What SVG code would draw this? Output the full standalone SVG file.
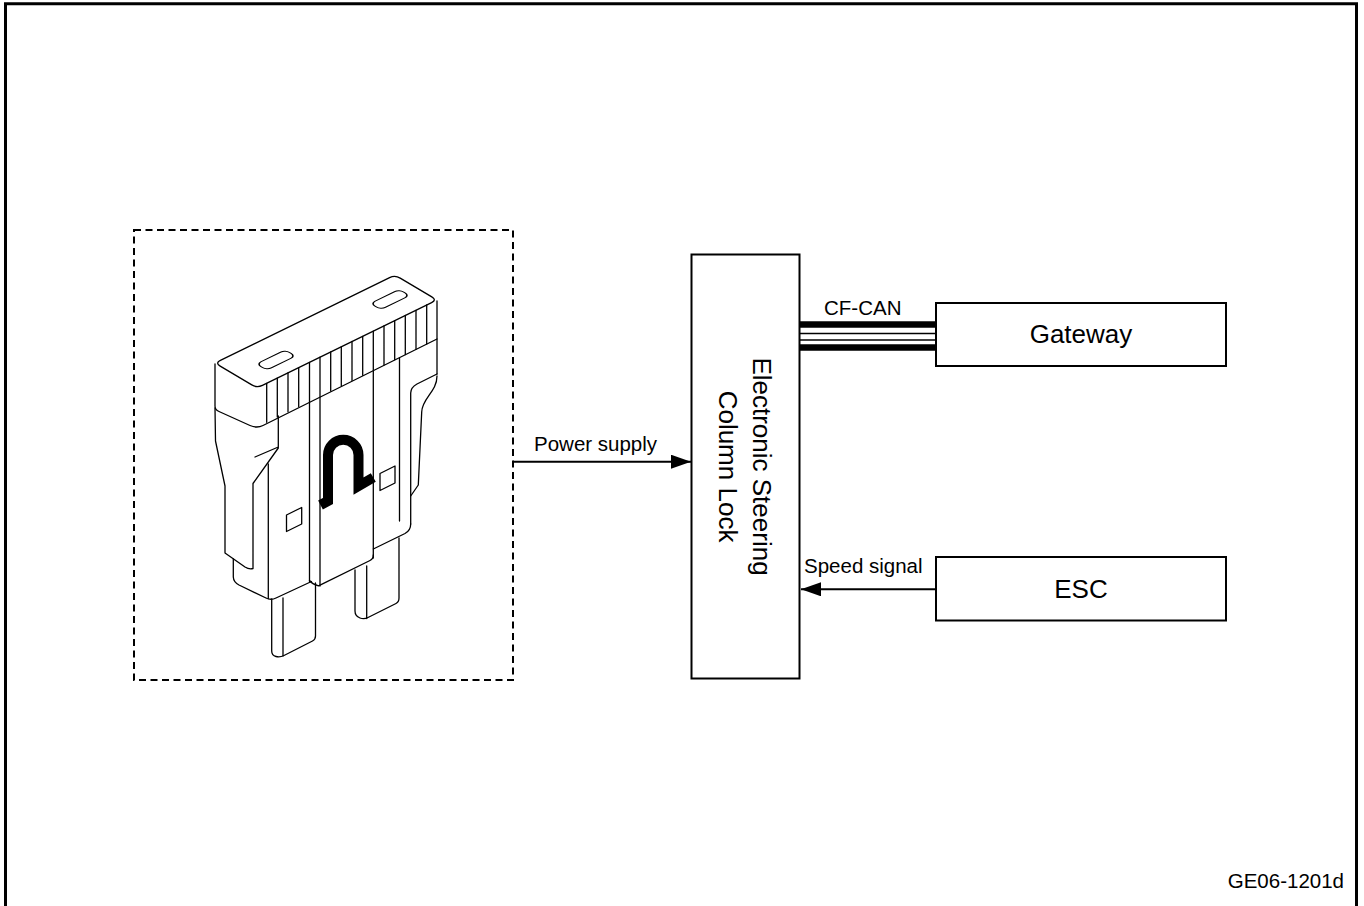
<svg xmlns="http://www.w3.org/2000/svg" width="1364" height="906" viewBox="0 0 1364 906">
  <defs>
    <style>
      .frame { fill: none; stroke: #000; stroke-width: 3; }
      .box { fill: #fff; stroke: #000; stroke-width: 2; }
      .dash { fill: none; stroke: #000; stroke-width: 2; stroke-dasharray: 7 4.5; }
      .wire { fill: none; stroke: #000; stroke-width: 2; }
      .fuse { fill: none; stroke: #000; stroke-width: 1.3; stroke-linejoin: round; stroke-linecap: round; }
      .element { fill: none; stroke: #000; stroke-width: 10; stroke-linejoin: miter; }
      .lbl { font-family: "Liberation Sans", Arial, sans-serif; font-size: 20.5px; fill: #000; }
      .name { font-family: "Liberation Sans", Arial, sans-serif; font-size: 26px; fill: #000; }
    </style>
    <marker id="arrow" viewBox="0 0 20 14" markerWidth="20" markerHeight="14" refX="20" refY="7" orient="auto" markerUnits="userSpaceOnUse">
      <path d="M0,0 L20,7 L0,14 Z" fill="#000"/>
    </marker>
  </defs>

  <rect x="0" y="0" width="1364" height="906" fill="#fff"/>
  <!-- page frame, open at the bottom -->
  <path class="frame" d="M5.5,906 V3.8 H1356.5 V906"/>

  <!-- fuse (power source) -->
  <g id="fuse">
    <rect class="dash" x="134" y="230" width="379" height="450"/>
    <!-- top face -->
    <path class="fuse" d="M220.4,360.4 L389.6,277.6 Q395,275 400.2,278.1 L431.8,296.9 Q437,300 431.6,302.6 L262.4,385.4 Q257,388 251.8,384.9 L220.2,366.1 Q215,363 220.4,360.4 Z"/>
    <!-- terminal holes -->
    <rect class="fuse" x="-16" y="-6" width="32" height="12" rx="5" transform="matrix(0.898,-0.439,0.859,0.512,276,360)"/>
    <rect class="fuse" x="-16" y="-6" width="32" height="12" rx="5" transform="matrix(0.898,-0.439,0.859,0.512,390,299.5)"/>
    <!-- cap band -->
    <path class="fuse" d="M215,364 L215,406 Q215,410 219,411.5 L250,425.5 Q257,428.5 263,425.5 L437,339"/>
    <path class="fuse" d="M437,301 L437,374"/>
    <g class="fuse">
      <path d="M266.7,383.3 V422.3 M277.3,378.1 V417.1 M288,372.8 V411.8 M298.7,367.6 V406.6 M330.7,352 V391 M341.3,346.8 V385.8 M352,341.5 V380.5 M362.7,336.3 V375.3 M384,325.9 V364.9 M394.7,320.7 V359.7 M405.3,315.5 V354.5 M416,310.3 V349.3 M426.7,305 V344"/>
    </g>
    <!-- body panels -->
    <path class="fuse" d="M309.5,362.4 V581.5 M320,357.2 V586 M373.3,331.1 V558 M399.5,358 V521"/>
    <!-- left shoulder -->
    <path class="fuse" d="M215,408 L215.5,441 L225,486 L225,553 L245,567 Q249,569.5 253,568.5 L253,483.5 L278.3,448 M255,457 L278.3,447 M278.3,416 L278.3,448"/>
    <path class="fuse" d="M268.3,464 V598.5"/>
    <path class="fuse" d="M233.3,559 L233.3,577 Q233.5,582 239,585 L266,598 Q271,600.5 276,598 L311.5,581.5"/>
    <!-- centre panel bottom -->
    <path class="fuse" d="M309.5,580.5 Q312,584 318.5,585.8 L370,560.5 Q373.3,559 373.3,555"/>
    <!-- right panel and shoulder -->
    <path class="fuse" d="M373.3,549 L405,533.5 Q410.7,530.5 410.7,524"/>
    <path class="fuse" d="M437,374 L417,384 Q410.7,387.5 410.7,393 L410.7,524"/>
    <path class="fuse" d="M437,376 C437,392 422,398 421.7,412 L418.3,485 L410.7,496"/>
    <!-- blades -->
    <path class="fuse" d="M271.7,599 L271.7,651 Q271.7,655.5 276,656.5 Q280,657.5 284,655.5 L312.5,641 Q315.5,639.5 315.5,636 L315.5,583"/>
    <path class="fuse" d="M283,598 V656"/>
    <path class="fuse" d="M355,570 L355,611 Q355,616 360,618 Q364,619.5 368,617.5 L396,603.5 Q399,602 399,598 L399,538"/>
    <path class="fuse" d="M366.7,566 V618.5"/>
    <!-- test windows -->
    <path class="fuse" d="M286.5,515 L301.7,507.5 L301.7,524 L286.5,531.5 Z"/>
    <path class="fuse" d="M380,473.5 L395,466 L395,483 L380,490.5 Z"/>
    <!-- fusible element -->
    <path class="element" d="M320.5,505 L328,501 L328,455 A15.25,15.25 0 0 1 358.5,455 L358.5,486 L373.3,477.5"/>
  </g>

  <!-- Electronic Steering Column Lock -->
  <g id="escl">
    <rect class="box" x="691.5" y="254.5" width="108" height="424"/>
    <g transform="translate(745.5,466.5) rotate(90)">
      <text class="name" x="0" y="-7" text-anchor="middle">Electronic Steering</text>
      <text class="name" x="0" y="26.5" text-anchor="middle">Column Lock</text>
    </g>
  </g>

  <!-- Gateway -->
  <g id="gateway">
    <rect class="box" x="936" y="303" width="290" height="63"/>
    <text class="name" x="1081" y="343" text-anchor="middle">Gateway</text>
  </g>

  <!-- ESC -->
  <g id="esc">
    <rect class="box" x="936" y="557" width="290" height="63.5"/>
    <text class="name" x="1081" y="597.5" text-anchor="middle">ESC</text>
  </g>

  <!-- connectors -->
  <g id="connectors">
    <line class="wire" x1="513" y1="461.7" x2="691" y2="461.7" marker-end="url(#arrow)"/>
    <text class="lbl" x="534" y="451">Power supply</text>

    <line x1="800" y1="324.5" x2="936" y2="324.5" stroke="#000" stroke-width="6.5"/>
    <line x1="800" y1="333.5" x2="936" y2="333.5" stroke="#000" stroke-width="1.7"/>
    <line x1="800" y1="340" x2="936" y2="340" stroke="#000" stroke-width="1.7"/>
    <line x1="800" y1="347.5" x2="936" y2="347.5" stroke="#000" stroke-width="6.5"/>
    <text class="lbl" x="824" y="315">CF-CAN</text>

    <line class="wire" x1="936" y1="589.3" x2="801" y2="589.3" marker-end="url(#arrow)"/>
    <text class="lbl" x="804" y="573">Speed signal</text>
  </g>

  <text class="lbl" x="1344" y="888" text-anchor="end">GE06-1201d</text>
</svg>
